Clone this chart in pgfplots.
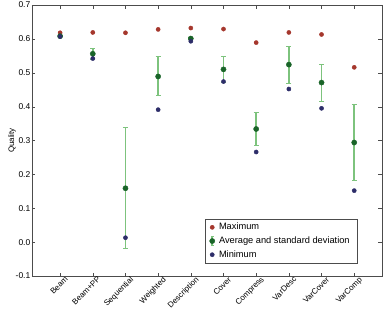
\documentclass[border=0pt]{standalone}
\usepackage{pgfplots}
\pgfplotsset{compat=1.18}
\usepackage{fontspec}
\setmainfont{Liberation Sans}
\definecolor{cmax}{RGB}{165,55,45}
\definecolor{cavg}{RGB}{25,100,40}
\definecolor{cmin}{RGB}{45,45,105}
\definecolor{cerr}{RGB}{125,195,125}
\begin{document}
\begin{tikzpicture}
\path[use as bounding box] (-32bp,-38bp) rectangle (354bp,276bp);
\begin{axis}[
  at={(0,0)}, anchor=south west,
  scale only axis, width=350bp, height=271bp,
  xmin=-0.86, xmax=9.85, ymin=-0.1, ymax=0.7,
  xtick={0,...,9},
  xticklabels={Beam,Beam+PP,Sequential,Weighted,Description,Cover,Compress,VarDesc,VarCover,VarComp},
  xticklabel style={rotate=45, anchor=north east, font=\fontsize{8}{8}\selectfont, inner sep=1pt, xshift=4bp, yshift=-2bp},
  ytick={-0.1,0,0.1,0.2,0.3,0.4,0.5,0.6,0.7},
  yticklabel style={font=\fontsize{8.5}{9}\selectfont, inner xsep=1.5pt},
  yticklabel={\pgfmathprintnumber[fixed,fixed zerofill,precision=1]{\tick}},
  /pgf/number format/assume math mode=true,
  ylabel={Quality}, ylabel style={font=\fontsize{8}{8}\selectfont},
  ylabel shift=-5pt,
  tick align=inside, major tick length=3.5bp,
  axis line style={black!70}, tick style={black!70},
  legend style={at={(0.931,0.048)}, anchor=south east, draw=black!70,
    font=\fontsize{9.3}{10}\selectfont, row sep=1.5pt, inner xsep=4pt, inner ysep=2pt,
    nodes={inner xsep=4pt}},
  legend cell align=left,
]
\addplot[only marks, mark=*, mark size=2.1bp, color=cmax] coordinates {
(0,0.618) (1,0.619) (2,0.618) (3,0.628) (4,0.632) (5,0.629) (6,0.589) (7,0.619) (8,0.613) (9,0.516)};
\addlegendentry{Maximum}
\addplot[only marks, mark=*, mark size=2.6bp, color=cavg,
  legend image code/.code={
    \draw[cerr, line width=1.5pt] (0.3cm,-0.16cm) -- (0.3cm,0.16cm);
    \draw[cerr, line width=0.8pt] (0.25cm,-0.16cm) -- (0.35cm,-0.16cm);
    \draw[cerr, line width=0.8pt] (0.25cm,0.16cm) -- (0.35cm,0.16cm);
    \fill[cavg] (0.3cm,0) circle (2.6bp);},
  error bars/.cd, y dir=both, y explicit,
  error bar style={draw=cerr, line width=1.8pt},
  error mark options={rotate=90, mark size=2.5bp, draw=cerr, line width=0.8pt}]
  table[x=x, y=y, y error plus=ep, y error minus=em] {
x y ep em
0 0.608 0.002 0.002
1 0.556 0.017 0.016
2 0.159 0.179 0.178
3 0.489 0.058 0.057
4 0.601 0.004 0.004
5 0.510 0.037 0.037
6 0.334 0.048 0.049
7 0.524 0.055 0.055
8 0.471 0.055 0.055
9 0.294 0.112 0.111
};
\addlegendentry{Average and standard deviation}
\addplot[only marks, mark=*, mark size=2.1bp, color=cmin] coordinates {
(0,0.607) (1,0.542) (2,0.013) (3,0.391) (4,0.593) (5,0.474) (6,0.266) (7,0.452) (8,0.395) (9,0.152)};
\addlegendentry{Minimum}
\end{axis}
\end{tikzpicture}
\end{document}
